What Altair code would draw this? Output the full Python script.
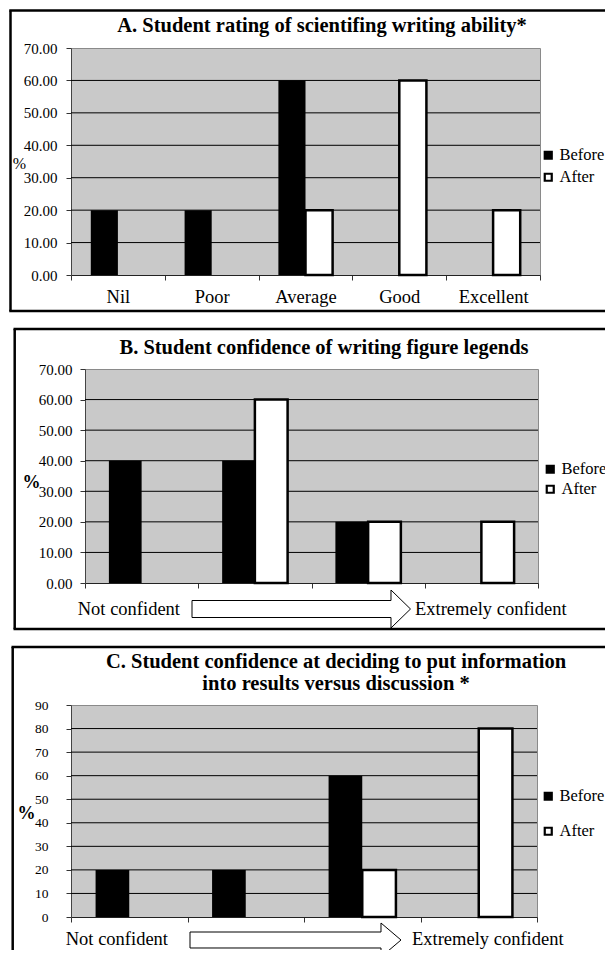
import altair as alt
import pandas as pd

FONT = "Liberation Serif, Times New Roman, serif"

series_names = ["Before", "After"]
series_colors = ["black", "white"]

# Panel A
title_a = "A. Student rating of scientifing writing ability*"
categories_a = ["Nil", "Poor", "Average", "Good", "Excellent"]
before_a = [20, 20, 60, 0, 0]
after_a = [0, 0, 20, 60, 20]
ticks_a = [0, 10, 20, 30, 40, 50, 60, 70]

# Panel B
title_b = "B. Student confidence of writing figure legends"
categories_b = ["1", "2", "3", "4", "5"]
before_b = [0, 40, 40, 20, 0]
after_b = [0, 0, 60, 20, 20]
ticks_b = [0, 10, 20, 30, 40, 50, 60, 70]

# Panel C
title_c = ["C. Student confidence at deciding to put information",
           "into results versus discussion *"]
categories_c = ["1", "2", "3", "4", "5"]
before_c = [20, 20, 60, 0, 0]
after_c = [0, 0, 20, 80, 0]
ticks_c = [0, 10, 20, 30, 40, 50, 60, 70, 80, 90]

scale_left = "Not confident"
scale_right = "Extremely confident"


def one():
    return pd.DataFrame({"a": [0]})


def text_layer(txt, x, y, size, weight="normal", align="center"):
    return alt.Chart(pd.DataFrame({"t": [txt]})).mark_text(
        font=FONT, fontSize=size, fontWeight=weight, color="black",
        align=align, baseline="middle"
    ).encode(x=alt.value(x), y=alt.value(y), text="t:N")


def hrule(x1, x2, y, opacity=1):
    return alt.Chart(one()).mark_rule(
        color="black", strokeWidth=2.5, strokeOpacity=opacity
    ).encode(x=alt.value(x1), x2=alt.value(x2), y=alt.value(y))


def vrule(x, y1, y2, opacity=1):
    return alt.Chart(one()).mark_rule(
        color="black", strokeWidth=2.5, strokeOpacity=opacity
    ).encode(x=alt.value(x), y=alt.value(y1), y2=alt.value(y2))


def arrow_layer(cx, cy, length, body_half, head_half, body_end):
    r = length / 2.0
    bh = body_half / r
    hh = head_half / r
    be = body_end / r - 1
    path = (f"M -1 {-bh:.4f} L {be:.4f} {-bh:.4f} L {be:.4f} {-hh:.4f} L 1 0 "
            f"L {be:.4f} {hh:.4f} L {be:.4f} {bh:.4f} L -1 {bh:.4f} Z")
    return alt.Chart(one()).mark_point(
        shape=path, size=length * length, filled=True, fill="white",
        stroke="black", strokeWidth=1, opacity=1
    ).encode(x=alt.value(cx), y=alt.value(cy))


def bar_layers(cats, before, after, ticks, fmt, show_xlabels, ylab_size,
               ylab_pad, pct_x, pct_y, pct_weight, pct_size,
               leg_x, leg_y, leg_rowpad):
    df = pd.DataFrame({
        "category": cats + cats,
        "series": ["Before"] * len(cats) + ["After"] * len(cats),
        "value": before + after,
    })
    x = alt.X(
        "category:N", sort=cats,
        scale=alt.Scale(paddingInner=0, paddingOuter=0),
        axis=alt.Axis(
            title=None, labels=show_xlabels, labelAngle=0, tickBand="extent",
            tickSize=5, tickColor="#333333", domainColor="#222222",
            labelFont=FONT, labelFontSize=18.5, labelColor="black",
            labelPadding=16, labelBaseline="middle", grid=False,
        ),
    )
    y = alt.Y(
        "value:Q",
        scale=alt.Scale(domain=[0, ticks[-1]], nice=False),
        axis=alt.Axis(
            values=ticks, format=fmt, grid=False, tickSize=5,
            tickColor="#333333", domainColor="#444444",
            labelFont=FONT, labelFontSize=ylab_size, labelColor="black",
            labelPadding=ylab_pad,
            title="%", titleAngle=0, titleX=pct_x, titleY=pct_y,
            titleAlign="center", titleBaseline="middle", titleFont=FONT,
            titleFontSize=pct_size, titleFontWeight=pct_weight,
            titleColor="black",
        ),
    )
    grid = alt.Chart(pd.DataFrame({"value": ticks[1:-1]})).mark_rule(
        color="black", strokeWidth=1
    ).encode(y=y)
    bars = alt.Chart(df).transform_filter("datum.value > 0").mark_bar(
        stroke="black"
    ).encode(
        x=x,
        xOffset=alt.XOffset(
            "series:N", sort=series_names,
            scale=alt.Scale(domain=series_names, paddingInner=0, paddingOuter=0.73),
        ),
        y=y,
        fill=alt.Fill(
            "series:N", sort=series_names,
            scale=alt.Scale(domain=series_names, range=series_colors),
            legend=alt.Legend(
                title=None, orient="none", legendX=leg_x, legendY=leg_y,
                symbolType="square", symbolSize=49, symbolStrokeColor="black",
                symbolStrokeWidth=2.2, labelFont=FONT, labelFontSize=16.5,
                labelColor="black", labelOffset=3, rowPadding=leg_rowpad,
                padding=0, direction="vertical",
            ),
        ),
        strokeWidth=alt.condition("datum.series == 'After'", alt.value(2.5), alt.value(0)),
    )
    return grid, bars


# ---------- Panel A (plot origin 71, 48) ----------
WA, HA = 469, 227
grid_a, bars_a = bar_layers(categories_a, before_a, after_a, ticks_a, ".2f", True, 15,
                            9, -52, 115, "normal", 16, 469, 99, 5)
panel_a = alt.layer(
    vrule(-63, -40, 266, 0),
    hrule(-61.75, 545, -37.5),
    vrule(-60.5, -37.5, 263),
    hrule(-61.75, 545, 263),
    grid_a, bars_a,
    text_layer(title_a, 251, -22, 20.5, "bold"),
).properties(width=WA, height=HA)

# ---------- Panel B (plot origin 83, 369) ----------
WB, HB = 453, 214
grid_b, bars_b = bar_layers(categories_b, before_b, after_b, ticks_b, ".2f", False, 15,
                            8, -54, 113, "bold", 18, 457, 92, 3)
panel_b = alt.layer(
    vrule(-74, -43, 263, 0),
    hrule(-71.5, 533, -40),
    vrule(-70.3, -40, 260),
    hrule(-71.5, 533, 260),
    grid_b, bars_b,
    text_layer(title_b, 239, -21, 20.5, "bold"),
    arrow_layer(216.25, 240, 218.5, 8.5, 19, 199),
    text_layer(scale_left, 95, 240, 18.5, align="right"),
    text_layer(scale_right, 330, 240, 18.5, align="left"),
).properties(width=WB, height=HB)

spacer = alt.Chart(one()).mark_rule(strokeOpacity=0).encode(
    x=alt.value(0), y=alt.value(0), y2=alt.value(1)
).properties(width=1, height=1,
             view=alt.ViewBackground(fill="transparent", stroke="transparent"))

row_b = alt.hconcat(spacer, panel_b, spacing=-63).resolve_scale(
    x="independent", y="independent", fill="independent", xOffset="independent"
).resolve_legend(fill="independent")

# ---------- Panel C (plot origin 71, 705) ----------
WC, HC = 466, 212
grid_c, bars_c = bar_layers(categories_c, before_c, after_c, ticks_c, "d", False, 13.5,
                            18, -45, 108, "bold", 18, 469, 83, 18)
panel_c = alt.layer(
    vrule(-63, -61, 242, 0),
    hrule(-59.5, 545, -58),
    vrule(-58.3, -58, 260),
    grid_c, bars_c,
    text_layer(title_c[0], 265, -43, 20.5, "bold"),
    text_layer(title_c[1], 265, -21, 20.5, "bold"),
    arrow_layer(224.5, 235, 211, 8, 17, 191),
    text_layer(scale_left, 97, 234, 18.5, align="right"),
    text_layer(scale_right, 341, 234, 18.5, align="left"),
).properties(width=WC, height=HC)

chart = alt.vconcat(panel_a, row_b, panel_c, spacing=10).resolve_scale(
    x="independent", y="independent", fill="independent", xOffset="independent"
).resolve_legend(fill="independent").properties(
    background="white",
    autosize=alt.AutoSizeParams(type="none"),
    padding={"left": 63, "top": 40, "right": 534, "bottom": 902},
).configure_view(
    fill="#c9c9c9", stroke="#8a8a8a", strokeWidth=1
)

chart.save("out.html", embed_options={"renderer": "svg", "actions": False})
